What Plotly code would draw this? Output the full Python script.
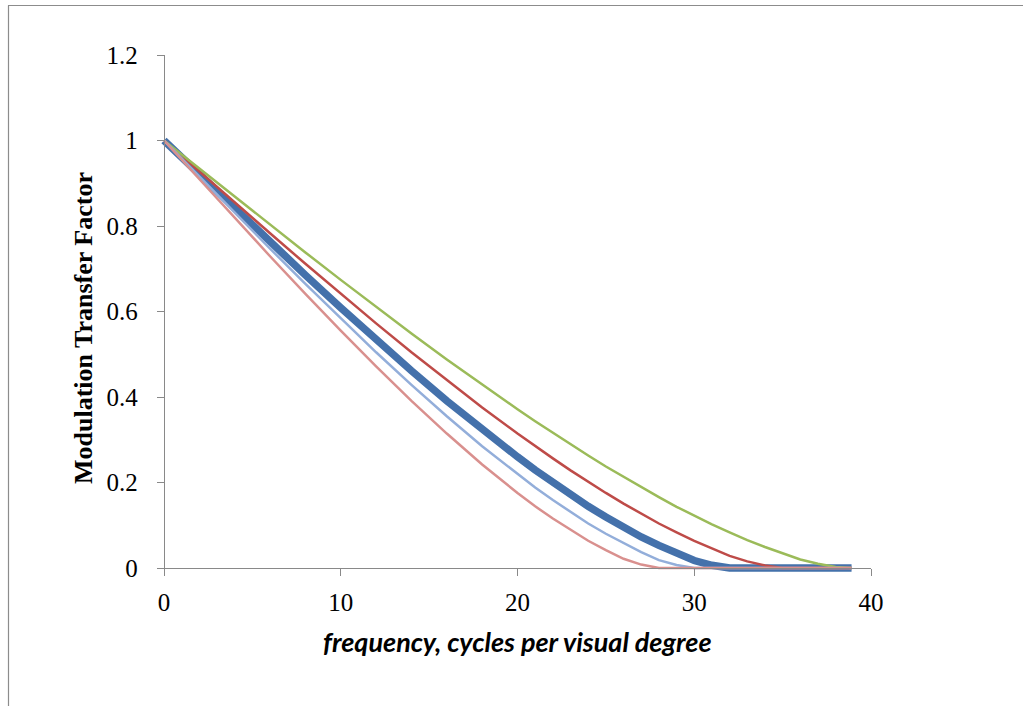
import plotly.graph_objects as go

# frequency (cycles per visual degree)
freq = [0, 2, 4, 6, 8, 10, 12, 14, 16, 18, 20, 21, 22, 23, 24, 25, 26, 27, 28, 29,
        30, 31, 32, 33, 34, 35, 36, 37, 38, 38.9]

mtf_blue = [1, .9205, .8413, .7627, .6851, .6088, .5341, .4614, .3910, .3238, .2600, .2293,
            .1999, .1717, .1443, .1192, .0951, .0726, .0528, .0344, .0175, .0064, 0, 0, 0,
            0, 0, 0, 0, 0]
mtf_red = [1, .9273, .8548, .7829, .7116, .6413, .5722, .5046, .4390, .3755, .3145, .2848,
           .2564, .2284, .2016, .1756, .1506, .1271, .1041, .0836, .0635, .0458, .0285,
           .0155, .0058, 0, 0, 0, 0, 0]
mtf_green = [1, .9341, .8683, .8029, .7381, .6740, .6107, .5487, .4879, .4288, .3713, .3433,
             .3161, .2891, .2632, .2375, .2130, .1886, .1659, .1432, .1224, .1019, .0832,
             .0651, .0492, .0341, .0200, .0098, .0023, 0]
mtf_lightblue = [1, .9152, .8308, .7471, .6647, .5837, .5046, .4283, .3549, .2848, .2195,
                 .1881, .1589, .1309, .1041, .0801, .0579, .0374, .0183, .0071, 0, 0, 0, 0,
                 0, 0, 0, 0, 0, 0]
mtf_pink = [1, .9092, .8188, .7293, .6413, .5552, .4717, .3910, .3145, .2422, .1756, .1443,
            .1156, .0887, .0637, .0418, .0215, .0080, 0, 0, 0, 0, 0, 0, 0, 0, 0, 0, 0, 0]

x_ticks = [0, 10, 20, 30, 40]
y_ticks = [0, 0.2, 0.4, 0.6, 0.8, 1, 1.2]
y_tick_text = ["0", "0.2", "0.4", "0.6", "0.8", "1", "1.2"]

series = [
    (mtf_blue, "#4471AB", 7.5),
    (mtf_red, "#BE4B48", 2.5),
    (mtf_green, "#9BBB59", 2.5),
    (mtf_lightblue, "#93AEDA", 2.5),
    (mtf_pink, "#D9908E", 2.5),
]

fig = go.Figure()
for ys, col, w in series:
    fig.add_trace(go.Scatter(x=freq, y=ys, mode="lines",
                             line=dict(color=col, width=w), showlegend=False,
                             hoverinfo="skip"))

axis_col = "#898989"
tick_font = dict(family="Liberation Serif", size=25, color="#000000")

fig.update_layout(
    width=1023, height=706,
    margin=dict(l=157, r=152, t=55, b=131, pad=0),
    paper_bgcolor="white", plot_bgcolor="white",
    xaxis=dict(range=[-0.396, 40], tickmode="array", tickvals=x_ticks,
               ticktext=[str(v) for v in x_ticks],
               showgrid=False, zeroline=False, showline=True, linecolor=axis_col,
               linewidth=1.3, ticks="outside", ticklen=7, tickcolor=axis_col,
               tickwidth=1.3, tickfont=tick_font, anchor="free", position=7 / 520,
               ticklabelstandoff=5),
    yaxis=dict(range=[-0.01637, 1.2], tickmode="array", tickvals=y_ticks,
               ticktext=y_tick_text,
               showgrid=False, zeroline=False, showline=True, linecolor=axis_col,
               linewidth=1.3, ticks="outside", ticklen=7, tickcolor=axis_col,
               tickwidth=1.3, tickfont=tick_font, anchor="free", position=7 / 714,
               ticklabelstandoff=14),
    annotations=[
        dict(text="Modulation Transfer Factor", xref="paper", yref="paper",
             x=(83 - 157) / 714, y=(575 - 328) / 520, textangle=-90,
             showarrow=False, xanchor="center", yanchor="middle",
             font=dict(family="Liberation Serif", size=26, color="#000000",
                       weight="bold")),
        dict(text="frequency, cycles per visual degree", xref="paper", yref="paper",
             x=(517 - 157) / 714, y=(575 - 641) / 520,
             showarrow=False, xanchor="center", yanchor="middle",
             font=dict(family="Lato", size=27, color="#000000", weight="bold",
                       style="italic")),
    ],
    shapes=[
        dict(type="line", xref="paper", yref="paper",
             x0=(8 - 157) / 714, x1=(1040 - 157) / 714,
             y0=(575 - 5.5) / 520, y1=(575 - 5.5) / 520,
             line=dict(color="#8C8C8C", width=1.2)),
        dict(type="line", xref="paper", yref="paper",
             x0=(8.5 - 157) / 714, x1=(8.5 - 157) / 714,
             y0=(575 - 5.5) / 520, y1=(575 - 720) / 520,
             line=dict(color="#8C8C8C", width=1.2)),
    ],
)

fig.write_html("out.html", config={"displayModeBar": False},
               post_script="document.body.style.margin='0';")
